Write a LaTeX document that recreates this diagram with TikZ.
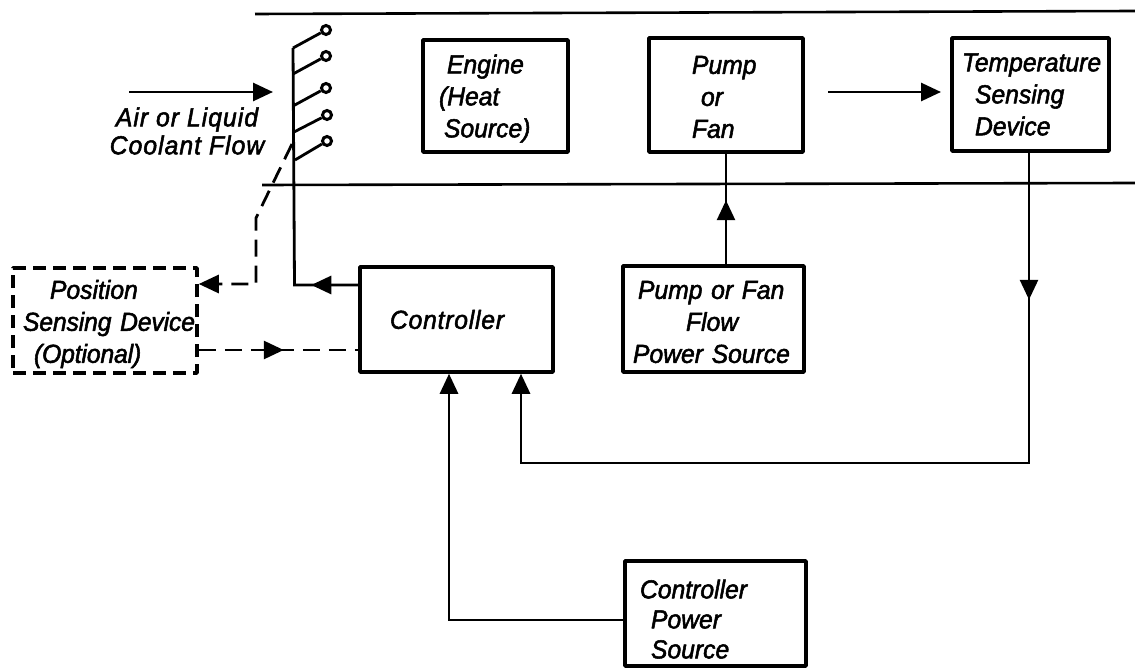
\documentclass[tikz,border=0pt]{standalone}
\usepackage{fontspec}
\setmainfont{Liberation Sans}[ItalicFeatures={FakeBold=2,FakeStretch=0.95}]
\usetikzlibrary{arrows.meta,decorations.markings}
\newcommand{\lin}[2]{\hspace*{#1pt}#2}
\newcommand{\nudge}[1]{\rule{0pt}{#1pt}}
\tikzset{
  x=1pt,y=-1pt,
  blockbox/.style={draw=black,line width=3.5pt,line join=round,inner sep=0pt,align=left,font=\fontsize{26}{32}\selectfont\itshape},
  dashbox/.style={blockbox,dash pattern=on 13pt off 7pt},
  wire/.style={draw=black,line width=2.8pt},
  dashwire/.style={wire,dash pattern=on 17pt off 9pt},
  rail/.style={draw=black,line width=2.6pt},
  tip/.style={-{Triangle[length=20pt,width=18pt]}},
  midtip/.style={postaction={decorate},decoration={markings,mark=at position #1 with {\arrow{Triangle[length=20pt,width=18pt]}}}},
  port/.style={circle,draw=black,line width=3pt,fill=white,minimum size=9pt,inner sep=0pt},
  txt/.style={inner sep=0pt,align=center,font=\fontsize{26}{28}\selectfont\itshape}
}
\begin{document}
\begin{tikzpicture}
\useasboundingbox (0,0) rectangle (1135,671);
\node[blockbox,text width=145pt,minimum height=112pt] (engine) at (495.5,96) {\nudge{24}\lin{24}{Engine}\\\lin{16}{(Heat}\\\lin{21}{Source)}};
\node[blockbox,text width=154pt,minimum height=114pt] (pump) at (726,95) {\nudge{22}\lin{43}{Pump}\\\lin{52}{or}\\\lin{43}{Fan}};
\node[blockbox,text width=157pt,minimum height=113pt] (temp) at (1030.5,94.5) {\lin{10}{Temperature}\\\lin{23}{Sensing}\\\lin{23}{Device}};
\node[blockbox,text width=193pt,minimum height=105pt] (ctrl) at (456.5,319.5) {\lin{30}{\addfontfeature{LetterSpace=3}Controller}};
\node[blockbox,text width=181pt,minimum height=106pt] (pfs) at (713.5,319) {\nudge{24}\lin{15}{Pump or Fan}\\\lin{63}{Flow}\\\lin{10}{Power Source}};
\node[dashbox,text width=184pt,minimum height=105pt] (pos) at (105,320.5) {\nudge{26}\lin{37}{Position}\\\lin{10}{\addfontfeature{LetterSpace=-0.5}Sensing Device}\\\lin{21}{(Optional)}};
\node[blockbox,font=\fontsize{26}{30}\selectfont\itshape,text width=181pt,minimum height=105pt] (cps) at (715.5,613.5) {\nudge{30}\lin{15}{Controller}\\\lin{26}{Power}\\\lin{26}{Source}};
\node[txt] (air) at (187,131) {\addfontfeature{LetterSpace=4}Air or Liquid\\\addfontfeature{LetterSpace=4}Coolant Flow};

\coordinate (r1a) at (255,14); \coordinate (r1b) at (1135,11);
\coordinate (r2a) at (262,185); \coordinate (r2b) at (1135,183);
\draw[rail] (r1a) -- (r1b);
\draw[rail] (r2a) -- (r2b);

\node[port] (p1) at (326,30) {};
\node[port] (p2) at (326,56) {};
\node[port] (p3) at (326,88) {};
\node[port] (p4) at (327,115) {};
\node[port] (p5) at (327,141) {};
\coordinate (s1) at (293,48);
\coordinate (s2) at (293,74);
\coordinate (s3) at (293,106);
\coordinate (s4) at (294,132);
\coordinate (s5) at (295,160);
\coordinate (elbow) at (294.5,285);
\draw[wire] (p1) -- (s1);
\draw[wire] (p2) -- (s2);
\draw[wire] (p3) -- (s3);
\draw[wire] (p4) -- (s4);
\draw[wire] (p5) -- (s5);
\draw[wire,midtip=47pt] (ctrl.west |- elbow) -- (elbow) -- (s1);

\coordinate (d1) at (292,144);
\coordinate (d2) at (256,218);
\coordinate (d3) at (256,284);
\draw[dashwire,tip] (d1) -- (d2) -- (d3) -- (pos.east |- d3);
\coordinate (e1) at (197,350);
\draw[dashwire,midtip=85pt] (pos.east |- e1) -- (ctrl.west |- e1);

\coordinate (a1) at (129,92); \coordinate (a2) at (273,92);
\draw[wire,tip] (a1) -- (a2);
\coordinate (f1) at (828,92); \coordinate (f2) at (941,92);
\draw[wire,tip] (f1) -- (f2);

\coordinate (w1) at (726,200);
\draw[wire,midtip=64pt] (pfs.north -| w1) -- (pump.south -| w1);
\coordinate (t1) at (1029,463); \coordinate (t2) at (521,463);
\draw[wire,tip,midtip=147pt] (temp.south -| t1) -- (t1) -- (t2) -- (ctrl.south -| t2);
\coordinate (c1) at (449,620);
\draw[wire,tip] (cps.west |- c1) -- (c1) -- (ctrl.south -| c1);
\end{tikzpicture}
\end{document}
